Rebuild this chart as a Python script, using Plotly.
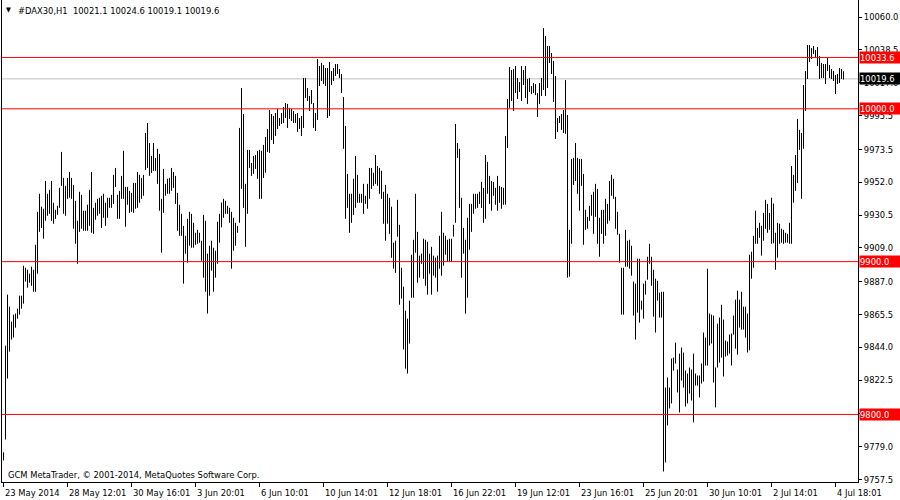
import plotly.graph_objects as go

# ---- data ----
highs = [
    9775.2, 9845.0, 9878.4, 9870.5, 9860.7, 9865.3, 9866.0, 9869.2, 9877.7, 9877.7,
    9897.3, 9896.0, 9894.7, 9892.1, 9896.7, 9894.7, 9911.0, 9932.6, 9944.4, 9935.9,
    9934.6, 9952.8, 9944.4, 9947.0, 9952.8, 9938.5, 9933.9, 9936.5, 9948.3, 9971.8,
    9954.8, 9949.6, 9954.8, 9958.7, 9954.8, 9950.2, 9939.8, 9926.7, 9945.7, 9943.7,
    9933.3, 9933.3, 9937.2, 9947.0, 9958.7, 9935.2, 9938.5, 9941.1, 9941.8, 9943.1,
    9944.4, 9938.5, 9941.8, 9941.8, 9943.7, 9956.8, 9961.3, 9943.7, 9946.3, 9956.1,
    9972.5, 9948.9, 9948.9, 9946.3, 9945.0, 9951.5, 9951.5, 9958.7, 9956.8, 9954.8,
    9956.8, 9984.2, 9990.7, 9977.6, 9969.2, 9977.6, 9967.9, 9973.8, 9970.5, 9941.1,
    9960.7, 9950.9, 9954.2, 9954.8, 9961.3, 9958.7, 9956.1, 9945.0, 9937.2, 9931.3,
    9923.4, 9916.9, 9928.0, 9932.6, 9931.3, 9925.4, 9918.9, 9920.8, 9918.9, 9913.7,
    9930.6, 9926.7, 9905.2, 9910.4, 9913.7, 9909.1, 9907.1, 9926.1, 9931.3, 9938.7,
    9941.1, 9939.8, 9936.5, 9935.2, 9932.6, 9928.7, 9925.4, 9923.4, 9987.5, 10013.6,
    9996.6, 9950.9, 9973.1, 9973.1, 9964.6, 9969.2, 9969.8, 9972.5, 9973.1, 9972.5,
    9976.4, 9981.6, 9986.8, 9999.2, 9996.6, 9995.3, 9997.3, 9999.9, 9994.0, 9997.3,
    10001.2, 10003.8, 10003.2, 10000.6, 9999.9, 9998.6, 9996.6, 9997.3, 9994.0, 9995.3,
    10020.1, 10020.1, 10013.6, 10008.4, 10012.3, 10003.8, 9997.3, 10032.6, 10028.0, 10030.0,
    10028.6, 10026.7, 10026.7, 10030.6, 10024.7, 10026.7, 10029.3, 10029.3, 10026.0, 10022.8,
    10007.7, 9988.8, 9957.4, 9944.4, 9944.4, 9954.2, 9969.2, 9956.8, 9944.4, 9944.4,
    9950.9, 9943.1, 9950.9, 9961.3, 9961.3, 9958.1, 9969.8, 9962.6, 9961.3, 9959.4,
    9945.7, 9950.2, 9944.4, 9941.8, 9935.9, 9912.4, 9913.7, 9940.4, 9924.1, 9896.0,
    9883.6, 9867.9, 9862.7, 9874.5, 9904.5, 9914.3, 9944.4, 9919.5, 9903.9, 9905.2,
    9915.0, 9914.3, 9913.0, 9905.2, 9909.7, 9903.9, 9902.6, 9903.9, 9916.9, 9932.6,
    9918.9, 9916.9, 9914.3, 9915.0, 9915.0, 9924.1, 9990.1, 9977.6, 9973.8, 9941.8,
    9922.1, 9914.3, 9928.7, 9937.8, 9937.8, 9944.4, 9944.4, 9944.4, 9945.7, 9952.2,
    9948.3, 9969.8, 9965.3, 9956.1, 9952.8, 9952.2, 9948.3, 9956.1, 9949.6, 9948.9,
    9948.3, 9982.2, 10006.4, 10027.3, 10025.4, 10026.0, 10028.0, 10020.1, 10017.5, 10028.0,
    10025.4, 10028.0, 10019.5, 10020.1, 10014.9, 10016.9, 10016.2, 10010.3, 10016.9, 10020.1,
    10052.8, 10047.6, 10041.1, 10041.1, 10036.5, 10031.3, 10021.5, 9994.0, 9995.3, 9996.6,
    9999.2, 10018.8, 9995.9, 9920.8, 9967.2, 9967.9, 9977.6, 9967.9, 9967.2, 9967.2,
    9957.4, 9933.9, 9929.3, 9936.5, 9943.7, 9945.7, 9950.9, 9947.6, 9928.7, 9933.9,
    9933.9, 9941.1, 9937.8, 9952.8, 9956.8, 9954.2, 9942.4, 9932.6, 9918.2, 9896.0,
    9896.0, 9920.8, 9913.7, 9914.3, 9910.4, 9886.9, 9885.6, 9901.9, 9901.9, 9874.5,
    9885.6, 9887.5, 9903.2, 9911.7, 9903.2, 9894.7, 9888.8, 9887.5, 9879.7, 9880.3,
    9880.3, 9817.6, 9824.2, 9817.6, 9836.6, 9837.2, 9847.0, 9829.4, 9839.8, 9843.8,
    9840.5, 9828.7, 9826.8, 9830.7, 9829.4, 9839.8, 9826.8, 9825.5, 9825.5, 9833.3,
    9853.6, 9850.3, 9895.4, 9866.0, 9865.3, 9864.7, 9830.7, 9859.4, 9863.4, 9871.8,
    9862.1, 9848.3, 9847.7, 9852.3, 9852.9, 9864.7, 9875.1, 9881.0, 9875.1, 9880.3,
    9870.5, 9870.5, 9866.0, 9904.5, 9906.5, 9916.9, 9933.3, 9922.1, 9925.4, 9923.4,
    9931.9, 9940.4, 9937.8, 9931.9, 9941.8, 9938.0, 9918.9, 9925.4, 9924.8, 9921.5,
    9920.8, 9918.9, 9918.2, 9925.4, 9962.6, 9956.8, 9969.8, 9993.4, 9986.2, 9984.2,
    10015.6, 10024.7, 10041.7, 10041.7, 10039.7, 10041.1, 10038.5, 10040.4, 10034.5, 10030.0,
    10029.3, 10029.3, 10033.2, 10028.6, 10026.0, 10024.7, 10022.1, 10022.8, 10026.7, 10026.0,
    10024.6,
]
lows = [
    9769.9, 9783.6, 9823.5, 9841.1, 9849.0, 9850.3, 9856.8, 9862.7, 9865.3, 9869.2,
    9872.5, 9886.9, 9882.9, 9886.2, 9884.2, 9880.3, 9880.3, 9892.1, 9919.5, 9922.1,
    9915.0, 9926.7, 9930.0, 9931.3, 9926.7, 9924.8, 9928.0, 9930.6, 9935.2, 9949.6,
    9931.3, 9930.0, 9941.1, 9941.8, 9941.1, 9921.5, 9911.7, 9898.6, 9919.5, 9921.5,
    9920.2, 9920.2, 9920.2, 9923.4, 9918.9, 9918.2, 9927.4, 9930.0, 9931.3, 9922.1,
    9928.7, 9923.4, 9928.7, 9935.2, 9935.2, 9937.8, 9948.9, 9928.0, 9928.0, 9941.1,
    9941.1, 9922.8, 9937.2, 9931.9, 9932.6, 9931.9, 9934.6, 9935.2, 9938.5, 9941.1,
    9943.1, 9960.0, 9961.3, 9956.1, 9958.1, 9959.4, 9959.4, 9950.9, 9933.3, 9905.8,
    9931.9, 9943.1, 9944.4, 9944.4, 9946.3, 9948.3, 9937.8, 9920.2, 9916.9, 9916.9,
    9885.6, 9905.2, 9899.3, 9910.4, 9909.1, 9909.1, 9911.0, 9911.7, 9912.4, 9900.6,
    9889.5, 9880.3, 9866.0, 9877.7, 9894.1, 9880.3, 9889.5, 9898.6, 9912.4, 9922.4,
    9928.7, 9931.3, 9931.3, 9925.4, 9895.4, 9907.1, 9910.4, 9918.9, 9925.4, 9947.6,
    9935.2, 9909.7, 9931.3, 9961.3, 9956.1, 9957.4, 9960.7, 9954.2, 9941.1, 9941.1,
    9954.8, 9958.1, 9971.8, 9971.2, 9979.6, 9977.0, 9982.2, 9986.8, 9988.8, 9990.1,
    9990.7, 9994.0, 9987.5, 9993.4, 9992.0, 9990.7, 9990.7, 9984.9, 9986.8, 9982.2,
    9987.5, 10007.1, 10005.1, 9998.6, 10003.2, 9987.5, 9985.5, 9992.7, 10014.9, 10018.2,
    10016.2, 10014.9, 9994.0, 9995.3, 10015.6, 10018.2, 10021.5, 10022.8, 10020.1, 10010.3,
    9973.8, 9928.0, 9935.2, 9918.9, 9925.4, 9930.6, 9935.2, 9938.5, 9938.5, 9938.5,
    9931.3, 9937.8, 9934.6, 9941.1, 9947.6, 9949.6, 9950.9, 9949.6, 9944.4, 9941.1,
    9924.8, 9913.7, 9924.8, 9918.2, 9902.5, 9895.4, 9892.7, 9916.3, 9871.8, 9875.8,
    9842.5, 9830.0, 9826.8, 9846.4, 9876.4, 9876.4, 9905.8, 9886.2, 9889.5, 9898.6,
    9888.8, 9884.2, 9878.4, 9892.1, 9878.4, 9890.8, 9889.5, 9880.3, 9895.4, 9890.8,
    9897.3, 9904.5, 9899.9, 9899.9, 9899.9, 9916.3, 9925.4, 9967.9, 9935.2, 9889.5,
    9905.2, 9866.0, 9876.4, 9907.8, 9919.5, 9931.3, 9934.6, 9935.2, 9937.8, 9935.2,
    9925.4, 9928.0, 9944.4, 9937.8, 9933.3, 9943.1, 9937.2, 9933.3, 9938.5, 9934.6,
    9937.2, 9937.2, 9974.4, 10000.6, 10005.1, 9998.6, 10010.3, 10006.4, 10011.0, 10005.1,
    10015.6, 10007.1, 10003.2, 10011.0, 10009.7, 10010.3, 10009.0, 9994.7, 10003.2, 10008.4,
    10012.3, 10008.4, 10013.6, 10030.0, 10022.8, 10004.5, 9980.3, 9984.9, 9990.7, 9986.2,
    9984.2, 9983.6, 9889.5, 9890.1, 9911.7, 9950.2, 9952.8, 9944.4, 9933.3, 9949.6,
    9911.0, 9920.8, 9921.5, 9926.7, 9930.0, 9918.2, 9929.3, 9911.7, 9903.2, 9918.2,
    9911.7, 9916.9, 9924.8, 9926.7, 9943.1, 9941.1, 9921.5, 9917.6, 9899.3, 9865.3,
    9865.3, 9896.7, 9896.7, 9895.4, 9890.8, 9864.7, 9849.0, 9866.6, 9860.1, 9868.6,
    9862.7, 9878.4, 9888.2, 9898.6, 9884.2, 9864.0, 9853.6, 9874.5, 9863.4, 9863.4,
    9762.7, 9768.6, 9792.8, 9803.9, 9807.2, 9828.7, 9833.3, 9814.4, 9801.3, 9822.2,
    9817.6, 9805.2, 9807.2, 9813.7, 9809.1, 9794.8, 9818.9, 9818.9, 9811.1, 9820.2,
    9821.5, 9832.0, 9832.0, 9845.1, 9846.4, 9820.9, 9804.6, 9830.7, 9833.9, 9837.2,
    9824.8, 9837.8, 9838.5, 9839.8, 9832.0, 9852.3, 9843.1, 9839.2, 9856.8, 9855.5,
    9855.5, 9850.3, 9840.5, 9842.0, 9888.8, 9896.0, 9911.7, 9911.7, 9915.6, 9903.9,
    9913.7, 9921.5, 9918.9, 9920.8, 9911.7, 9912.0, 9894.7, 9902.6, 9911.7, 9912.4,
    9911.7, 9912.4, 9912.4, 9911.7, 9911.7, 9938.5, 9946.3, 9951.5, 9973.1, 9941.1,
    9973.8, 9998.6, 10019.5, 10030.6, 10032.6, 10035.8, 10033.2, 10028.0, 10019.5, 10020.1,
    10020.1, 10016.2, 10024.7, 10020.1, 10019.5, 10018.2, 10009.7, 10016.2, 10016.9, 10019.5,
    10019.1,
]

time_labels = ["23 May 2014", "28 May 12:01", "30 May 16:01", "3 Jun 20:01",
               "6 Jun 10:01", "10 Jun 14:01", "12 Jun 18:01", "16 Jun 22:01",
               "19 Jun 12:01", "23 Jun 16:01", "25 Jun 20:01", "30 Jun 10:01",
               "2 Jul 14:01", "4 Jul 18:01"]
bars_per_label = 32
price_ticks = [10060.0, 10038.5, 10017.0, 9995.5, 9973.5, 9952.0, 9930.5, 9909.0,
               9887.0, 9865.5, 9844.0, 9822.5, 9800.5, 9779.0, 9757.5]
level_lines = [10033.6, 10000.0, 9900.0, 9800.0]
bid_price = 10019.6
symbol = "#DAX30,H1"
last_ohlc = [10021.1, 10024.6, 10019.1, 10019.6]
footer = "GCM MetaTrader, \u00a9 2001-2014, MetaQuotes Software Corp."

FONT = "DejaVu Sans Condensed, DejaVu Sans, sans-serif"
FS = 9.3

# ---- bars as vertical high-low segments ----
xs, ys = [], []
for i, (h, l) in enumerate(zip(highs, lows)):
    xs += [i, i, None]
    ys += [l, h, None]

fig = go.Figure()
fig.add_trace(go.Scatter(x=xs, y=ys, mode="lines",
                         line=dict(color="black", width=1),
                         hoverinfo="skip", showlegend=False))

shapes = []
shapes.append(dict(type="line", xref="paper", x0=0, x1=1, yref="y",
                   y0=bid_price, y1=bid_price, layer="below",
                   line=dict(color="#C0C0C0", width=1)))
for lv in level_lines:
    shapes.append(dict(type="line", xref="paper", x0=0, x1=1, yref="y",
                       y0=lv, y1=lv, layer="above",
                       line=dict(color="#FF0000", width=1)))

annotations = []
tick_bars = [i * bars_per_label for i in range(len(time_labels))]
for tb, lab in zip(tick_bars, time_labels):
    annotations.append(dict(x=tb, xref="x", y=0, yref="paper", yshift=-10,
                            xanchor="left", yanchor="middle", text=lab,
                            showarrow=False, borderpad=0,
                            font=dict(family=FONT, size=FS, color="black")))
# price boxes on the right scale
for lv in level_lines:
    annotations.append(dict(x=1, xref="paper", xshift=1, y=lv, yref="y",
                            xanchor="left", yanchor="middle", text=f"{lv:.1f}",
                            showarrow=False, bgcolor="#FF0000", borderpad=0,
                            width=41, height=11, align="left",
                            font=dict(family=FONT, size=FS, color="white")))
annotations.append(dict(x=1, xref="paper", xshift=1, y=bid_price, yref="y",
                        xanchor="left", yanchor="middle", text=f"{bid_price:.1f}",
                        showarrow=False, bgcolor="#000000", borderpad=0,
                        width=41, height=11, align="left",
                        font=dict(family=FONT, size=FS, color="white")))
# header
annotations.append(dict(x=3 / 856, xref="paper", y=1, yref="paper", yshift=-10,
                        xanchor="left", yanchor="middle", text="\u25bc",
                        showarrow=False, borderpad=0,
                        font=dict(family=FONT, size=7, color="black")))
annotations.append(dict(x=15 / 856, xref="paper", y=1, yref="paper", yshift=-10,
                        xanchor="left", yanchor="middle",
                        text=symbol + "\u00a0\u00a0" + " ".join(f"{v:.1f}" for v in last_ohlc),
                        showarrow=False, borderpad=0,
                        font=dict(family=FONT, size=FS, color="black")))
annotations.append(dict(x=5 / 856, xref="paper", y=0, yref="paper", yshift=8,
                        xanchor="left", yanchor="middle", text=footer,
                        showarrow=False, borderpad=0,
                        font=dict(family=FONT, size=FS, color="black")))

fig.update_layout(
    width=900, height=500,
    margin=dict(l=2, r=42, t=0, b=18, pad=0),
    paper_bgcolor="white", plot_bgcolor="white",
    showlegend=False,
    shapes=shapes, annotations=annotations,
    font=dict(family=FONT, size=FS, color="black"),
    xaxis=dict(range=[-0.75, 427.25], showgrid=False, zeroline=False,
               showline=True, linecolor="black", linewidth=1,
               tickvals=tick_bars, ticks="outside", ticklen=4, tickcolor="black",
               showticklabels=False, fixedrange=True),
    yaxis=dict(range=[9755.8, 10071.2], side="right", showgrid=False, zeroline=False,
               showline=True, mirror=True, linecolor="black", linewidth=1,
               tickvals=price_ticks, ticktext=[f"{p:.1f}" for p in price_ticks],
               ticks="outside", ticklen=3, tickcolor="black",
               tickfont=dict(family=FONT, size=FS, color="black"), fixedrange=True),
)

fig.write_html("out.html", config={"displayModeBar": False},
               post_script="document.body.style.margin='0';document.body.style.padding='0';")
